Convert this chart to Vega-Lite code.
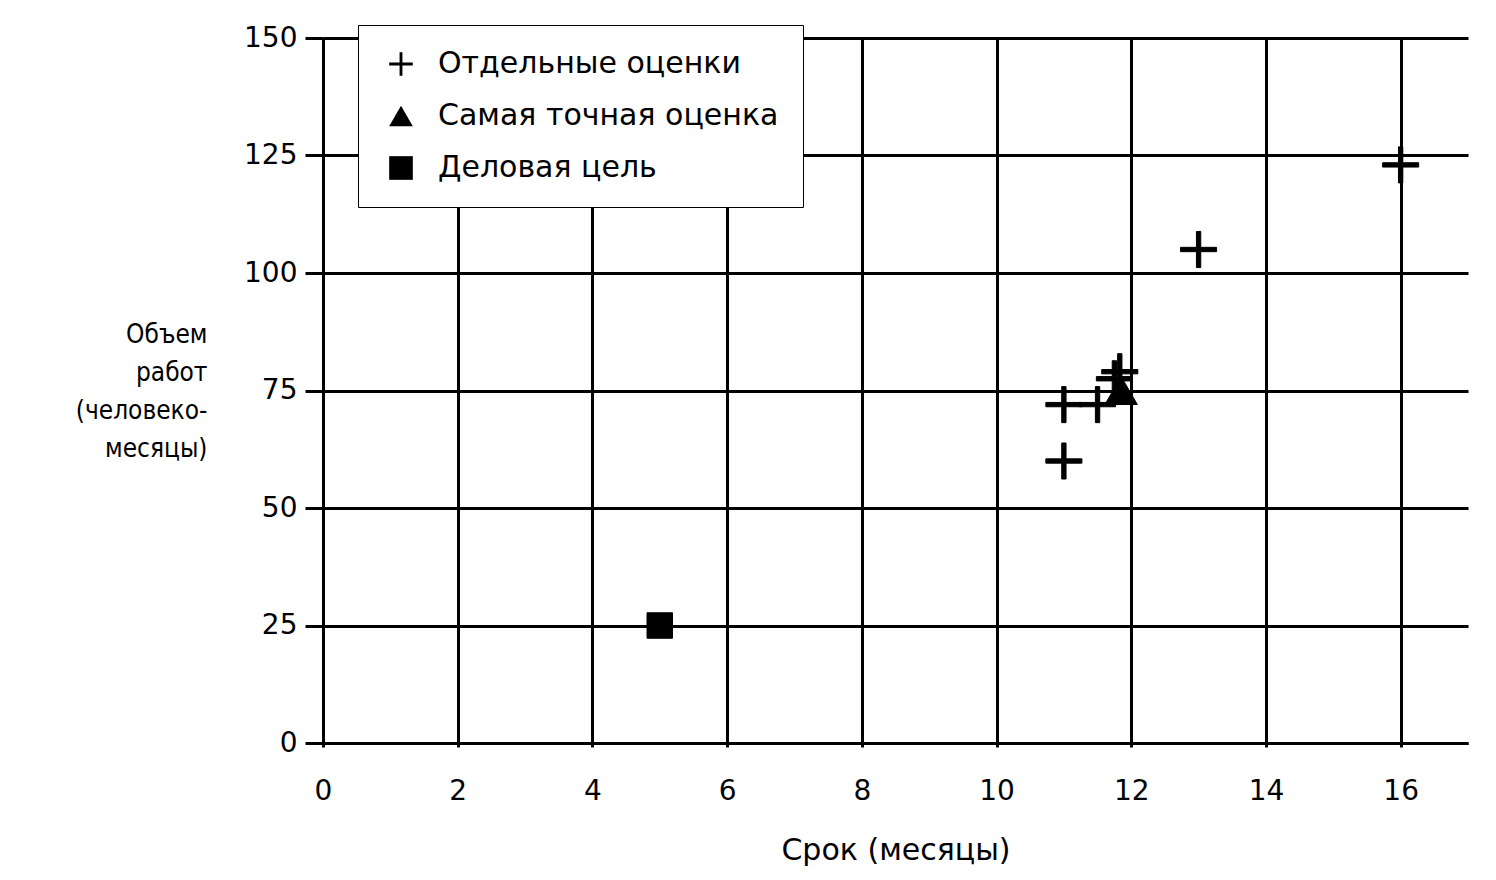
{
  "$schema": "https://vega.github.io/schema/vega-lite/v6.json",
  "autosize": {"type": "none"},
  "width": 1145,
  "height": 705,
  "padding": {"left": 323, "top": 38, "right": 28, "bottom": 137},
  "background": "white",
  "config": {
    "view": {"stroke": null},
    "font": "DejaVu Sans",
    "axis": {
      "labelFont": "DejaVu Sans",
      "titleFont": "DejaVu Sans",
      "labelFontSize": 28,
      "titleFontSize": 30,
      "titleFontWeight": "normal",
      "labelColor": "black",
      "titleColor": "black",
      "domainColor": "black",
      "domainWidth": 3,
      "tickColor": "black",
      "tickWidth": 3,
      "tickSize": 18,
      "gridColor": "black",
      "gridWidth": 3,
      "gridOpacity": 1
    }
  },
  "data": {
    "values": [
      {"x": 11, "y": 60, "type": "Отдельные оценки"},
      {"x": 11, "y": 72, "type": "Отдельные оценки"},
      {"x": 11.5, "y": 72, "type": "Отдельные оценки"},
      {"x": 11.75, "y": 77.5, "type": "Отдельные оценки"},
      {"x": 11.83, "y": 79, "type": "Отдельные оценки"},
      {"x": 13, "y": 105, "type": "Отдельные оценки"},
      {"x": 16, "y": 123, "type": "Отдельные оценки"},
      {"x": 11.85, "y": 75, "type": "Самая точная оценка"},
      {"x": 5, "y": 25, "type": "Деловая цель"}
    ]
  },
  "mark": {
    "type": "point",
    "filled": true,
    "fill": "black",
    "stroke": "black",
    "strokeWidth": 1,
    "opacity": 1
  },
  "encoding": {
    "x": {
      "field": "x",
      "type": "quantitative",
      "scale": {"domain": [0, 17], "nice": false, "zero": false},
      "axis": {
        "values": [0, 2, 4, 6, 8, 10, 12, 14, 16],
        "title": "Срок (месяцы)",
        "tickSize": 4,
        "labelPadding": 30,
        "titlePadding": 30,
        "labelFlush": false
      }
    },
    "y": {
      "field": "y",
      "type": "quantitative",
      "scale": {"domain": [0, 150], "nice": false},
      "axis": {
        "values": [0, 25, 50, 75, 100, 125, 150],
        "title": ["Объем", "работ", "(человеко-", "месяцы)"],
        "titleFont": "DejaVu Sans Condensed",
        "titleFontSize": 26,
        "titleAngle": 0,
        "titleAlign": "right",
        "titleBaseline": "top",
        "titleX": -116,
        "titleY": 283,
        "titleLineHeight": 38,
        "labelPadding": 8,
        "labelFlush": false
      }
    },
    "shape": {
      "field": "type",
      "type": "nominal",
      "scale": {
        "domain": ["Отдельные оценки", "Самая точная оценка", "Деловая цель"],
        "range": ["M-1,-0.12H-0.12V-1H0.12V-0.12H1V0.12H0.12V1H-0.12V0.12H-1Z", "triangle-up", "square"]
      },
      "legend": {
        "title": null,
        "orient": "none",
        "legendX": 35,
        "legendY": -13,
        "strokeColor": "black",
        "fillColor": "white",
        "padding": 24,
        "symbolOffset": 4,
        "symbolSize": 560,
        "symbolFillColor": "black",
        "symbolStrokeColor": "black",
        "symbolStrokeWidth": 1,
        "labelFont": "DejaVu Sans",
        "labelFontSize": 30,
        "labelColor": "black",
        "labelOffset": 22,
        "rowPadding": 22,
        "labelLimit": 500,
        "encode": {
          "legend": {"update": {"strokeWidth": {"value": 2}}}
        }
      }
    },
    "size": {
      "condition": [
        {"test": "datum.type === 'Отдельные оценки'", "value": 1300},
        {"test": "datum.type === 'Самая точная оценка'", "value": 1050}
      ],
      "value": 650
    }
  }
}
